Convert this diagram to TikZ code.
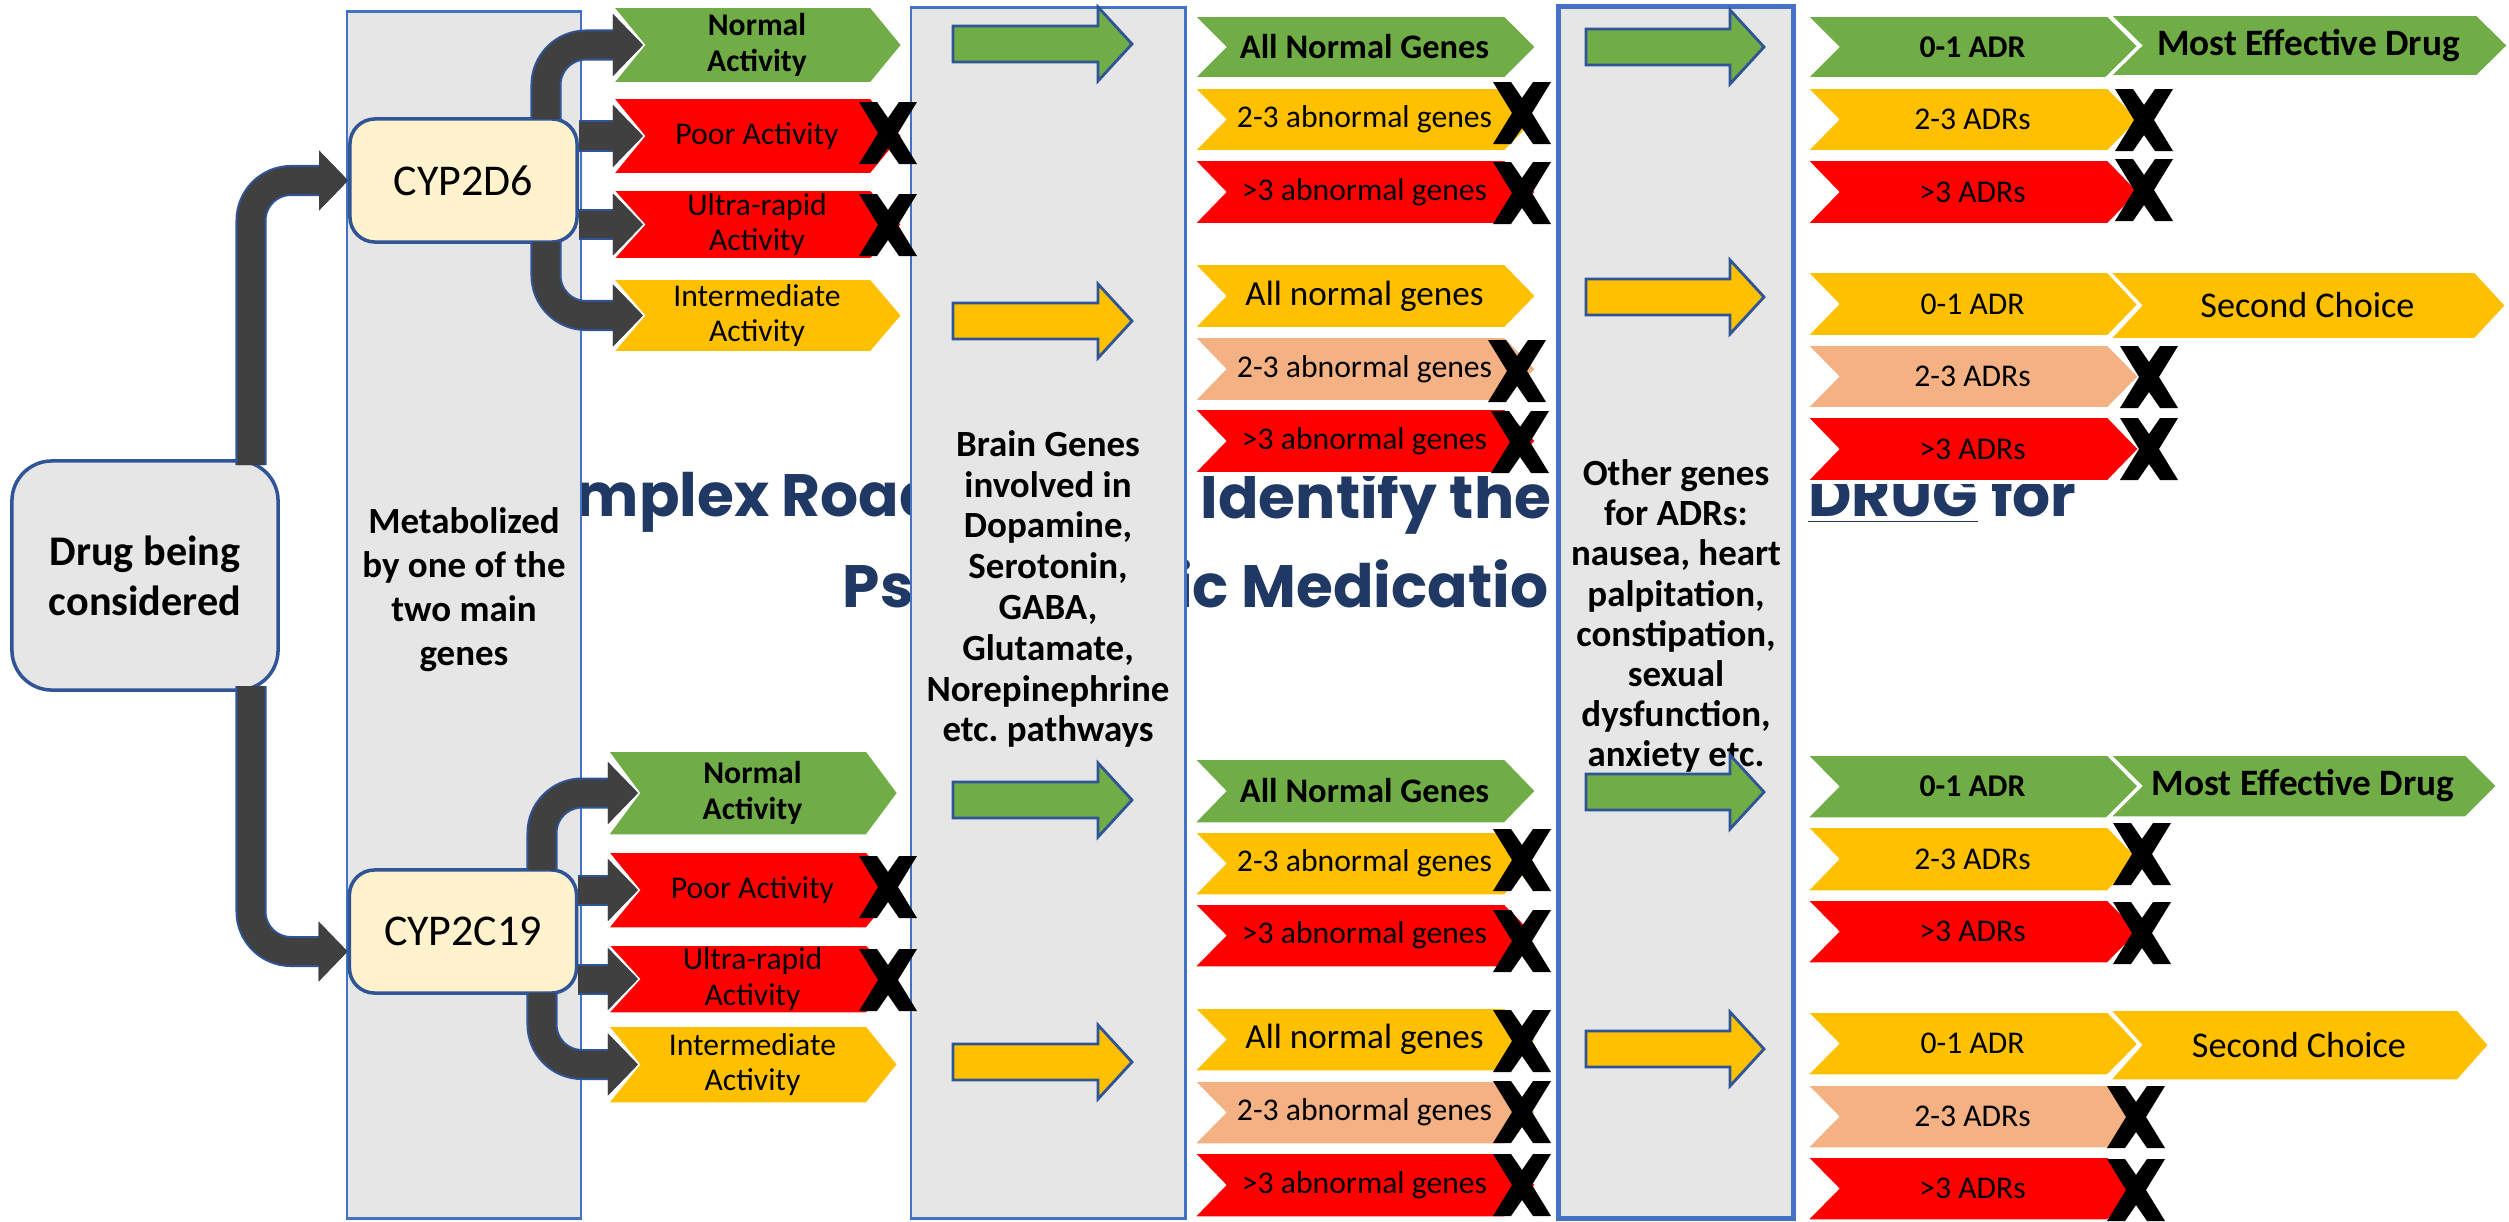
\documentclass[tikz,border=0pt]{standalone}
\usepackage{fontspec}
\setmainfont{Carlito}
\newfontfamily\titlefont{Poppins}
\usetikzlibrary{arrows.meta}

\definecolor{gogreen}{HTML}{70AD47}
\definecolor{warnyellow}{HTML}{FFC000}
\definecolor{badred}{HTML}{FF0000}
\definecolor{peach}{HTML}{F4B183}
\definecolor{colgray}{HTML}{E7E6E6}
\definecolor{colblue}{HTML}{4472C4}
\definecolor{pipegray}{HTML}{404040}
\definecolor{pipeblue}{HTML}{2F5597}
\definecolor{navy}{HTML}{203864}
\definecolor{cream}{HTML}{FFF2CC}

\gdef\chevdepth{32}

\tikzset{
  chevron/.style={draw=white, line width=1pt},
  chevtext/.style={font=\fontsize{9}{10.2}\selectfont, align=center, inner sep=0pt},
  strong/.style={font=\bfseries\fontsize{9}{10.2}\selectfont},
  strongbig/.style={font=\bfseries\fontsize{9.8}{11}\selectfont},
  big/.style={font=\fontsize{10}{11}\selectfont},
  verdict/.style={font=\fontsize{10.3}{12}\selectfont},
  verdictbold/.style={font=\bfseries\fontsize{10.6}{12}\selectfont},
  nogo/.style={fill=black},
  pipe/.style={draw=pipegray, line width=0.27cm, rounded corners=0.4cm, -{Triangle[length=0.3cm,width=0.6cm]}, preaction={draw=pipeblue, line width=0.31cm}},
  blockarrow/.style={draw=pipeblue, line width=0.8pt},
  colbox/.style={draw=colblue, fill=colgray, line width=0.8pt, inner sep=0pt},
  coltext/.style={align=center, inner sep=0pt},
  genebox/.style={draw=pipeblue, fill=cream, rounded corners=0.25cm, line width=1pt, minimum width=2.27cm, minimum height=1.23cm, font=\fontsize{12.5}{14}\selectfont},
  drugbox/.style={draw=pipeblue, fill=colgray, rounded corners=0.4cm, line width=1pt, minimum width=2.66cm, minimum height=2.29cm, align=center, font=\bfseries\fontsize{12}{14.2}\selectfont},
  headline/.style={font=\titlefont\bfseries\fontsize{17}{20}\selectfont, text=navy, inner sep=0pt}
}

% name, left, top, tip, bottom, fill, text options, text
\newcommand{\chev}[8]{%
  \filldraw[chevron, fill=#6] (#2,#3) -- (#4-\chevdepth,#3) -- (#4,{(#3+#5)/2}) -- (#4-\chevdepth,#5) -- (#2,#5) -- (#2+\chevdepth,{(#3+#5)/2}) -- cycle;
  \node[chevtext, #7] (#1) at ({(#2+#4)/2},{(#3+#5)/2}) {#8};
  \coordinate (#1dock) at (#2+\chevdepth,{(#3+#5)/2});}

% left, tip, middle, fill
\newcommand{\fatarrow}[4]{%
  \filldraw[blockarrow, fill=#4] (#1,#3-18) -- (#2-34,#3-18) -- (#2-34,#3-37) -- (#2,#3) -- (#2-34,#3+37) -- (#2-34,#3+18) -- (#1,#3+18) -- cycle;}

% name, x, y
\newcommand{\nogo}[3]{%
  \coordinate (#1) at (#2,#3);
  \fill[nogo, shift={(#2,#3)}] (-29,-31) -- (-11,-31) -- (0,-15) -- (11,-31) -- (29,-31) -- (10,0) -- (29,31) -- (11,31) -- (0,15) -- (-11,31) -- (-29,31) -- (-10,0) -- cycle;}

\begin{document}
\begin{tikzpicture}[x=0.01cm, y=-0.01cm]
\useasboundingbox (0,0) rectangle (2509,1221);

\node[headline, anchor=base west] (title1) at (575,516) {mplex Road};
\node[headline, anchor=base west] (title2) at (1200,518) {Identify the};
\node[headline, anchor=base east] (title3) at (2077,516) {\underline{DRUG} for};
\node[headline, anchor=base west] (title4) at (842,607) {Ps};
\node[headline, anchor=base east] (title5) at (1549,607) {ic Medicatio};

\node[colbox, minimum width=2.34cm, minimum height=12.06cm] (metab) at (464,615) {};
\node[colbox, minimum width=2.74cm, minimum height=12.10cm] (brain) at (1048,613) {};
\node[colbox, line width=1.6pt, minimum width=2.35cm, minimum height=12.11cm] (other) at (1676,612.5) {};

\node[coltext, font=\bfseries\fontsize{10.5}{12.5}\selectfont] (metabtext) at (464,590) {Metabolized\\by one of the\\two main\\genes};
\node[coltext, font=\bfseries\fontsize{10.5}{11.6}\selectfont] (braintext) at (1048,589) {Brain Genes\\involved in\\Dopamine,\\Serotonin,\\GABA,\\Glutamate,\\Norepinephrine\\etc.\ pathways};
\node[coltext, font=\bfseries\fontsize{10.5}{11.4}\selectfont] (othertext) at (1676,616) {Other genes\\for ADRs:\\nausea, heart\\palpitation,\\constipation,\\sexual\\dysfunction,\\anxiety etc.};

\fatarrow{953}{1132}{44}{gogreen}
\fatarrow{953}{1132}{321}{warnyellow}
\fatarrow{953}{1132}{800}{gogreen}
\fatarrow{953}{1132}{1062}{warnyellow}
\fatarrow{1586}{1764}{47}{gogreen}
\fatarrow{1586}{1764}{297}{warnyellow}
\fatarrow{1586}{1764}{792}{gogreen}
\fatarrow{1586}{1764}{1049}{warnyellow}

\chev{act1}{611}{6}{903}{84}{gogreen}{strong}{Normal\\Activity}
\chev{act2}{611}{97}{903}{175}{badred}{}{Poor Activity}
\chev{act3}{611}{189}{903}{260}{badred}{}{Ultra-rapid\\Activity}
\chev{act4}{611}{278}{903}{353}{warnyellow}{}{Intermediate\\Activity}
\chev{act5}{606}{750}{899}{836}{gogreen}{strong}{Normal\\Activity}
\chev{act6}{606}{851}{899}{929}{badred}{}{Poor Activity}
\chev{act7}{606}{944}{899}{1014}{badred}{}{Ultra-rapid\\Activity}
\chev{act8}{606}{1025}{899}{1104}{warnyellow}{}{Intermediate\\Activity}

\chev{gen1}{1192}{15}{1537}{79}{gogreen}{strongbig}{All Normal Genes}
\chev{gen2}{1192}{87}{1537}{152}{warnyellow}{}{2-3 abnormal genes}
\chev{gen3}{1192}{159}{1537}{225}{badred}{}{>3 abnormal genes}
\chev{gen4}{1192}{263}{1537}{329}{warnyellow}{big}{All normal genes}
\chev{gen5}{1192}{336}{1537}{402}{peach}{}{2-3 abnormal genes}
\chev{gen6}{1192}{408}{1537}{474}{badred}{}{>3 abnormal genes}
\chev{gen7}{1192}{758}{1537}{824}{gogreen}{strongbig}{All Normal Genes}
\chev{gen8}{1192}{831}{1537}{896}{warnyellow}{}{2-3 abnormal genes}
\chev{gen9}{1192}{903}{1537}{968}{badred}{}{>3 abnormal genes}
\chev{gen10}{1192}{1007}{1537}{1072}{warnyellow}{big}{All normal genes}
\chev{gen11}{1192}{1080}{1537}{1145}{peach}{}{2-3 abnormal genes}
\chev{gen12}{1192}{1152}{1537}{1218}{badred}{}{>3 abnormal genes}

\chev{adr1}{1805}{15}{2140}{79}{gogreen}{strong}{0-1 ADR}
\chev{adr2}{1805}{87}{2140}{152}{warnyellow}{}{2-3 ADRs}
\chev{adr3}{1805}{159}{2140}{225}{badred}{}{>3 ADRs}
\chev{adr4}{1805}{271}{2140}{337}{warnyellow}{}{0-1 ADR}
\chev{adr5}{1805}{344}{2140}{409}{peach}{}{2-3 ADRs}
\chev{adr6}{1805}{416}{2140}{482}{badred}{}{>3 ADRs}
\chev{adr7}{1805}{754}{2140}{819}{gogreen}{strong}{0-1 ADR}
\chev{adr8}{1805}{826}{2140}{892}{warnyellow}{}{2-3 ADRs}
\chev{adr9}{1805}{899}{2140}{964}{badred}{}{>3 ADRs}
\chev{adr10}{1805}{1011}{2140}{1076}{warnyellow}{}{0-1 ADR}
\chev{adr11}{1805}{1084}{2140}{1149}{peach}{}{2-3 ADRs}
\chev{adr12}{1805}{1156}{2140}{1221}{badred}{}{>3 ADRs}

\chev{best1}{2108}{14}{2509}{77}{gogreen}{verdictbold}{Most Effective Drug}
\chev{second1}{2108}{271}{2507}{340}{warnyellow}{verdict}{Second Choice}
\chev{best2}{2108}{754}{2498}{818}{gogreen}{verdictbold}{Most Effective Drug}
\chev{second2}{2108}{1009}{2490}{1081}{warnyellow}{verdict}{Second Choice}

\nogo{no1}{888}{133}
\nogo{no2}{888}{225}
\nogo{no3}{888}{887}
\nogo{no4}{888}{980}
\nogo{no5}{1522}{113}
\nogo{no6}{1522}{193}
\nogo{no7}{1517}{371}
\nogo{no8}{1520}{442}
\nogo{no9}{1522}{860}
\nogo{no10}{1522}{941}
\nogo{no11}{1522}{1041}
\nogo{no12}{1522}{1112}
\nogo{no13}{1522}{1185}
\nogo{no14}{2144}{120}
\nogo{no15}{2144}{190}
\nogo{no16}{2149}{377}
\nogo{no17}{2149}{449}
\nogo{no18}{2142}{854}
\nogo{no19}{2142}{933}
\nogo{no20}{2136}{1117}
\nogo{no21}{2136}{1190}

\node[drugbox] (drug) at (145,575.5) {Drug being\\considered};
\node[genebox] (cyp1) at (463.5,180.5) {CYP2D6};
\node[genebox] (cyp2) at (463,931.5) {CYP2C19};

\coordinate (drugup) at (251,465);
\coordinate (drugdown) at (251,686);
\coordinate (cyp1up) at (546,119);
\coordinate (cyp1down) at (546,242);
\coordinate (cyp2up) at (542,870);
\coordinate (cyp2down) at (542,993);

\draw[pipe, -{Triangle[length=0.29cm,width=0.58cm]}] (drugup) |- (cyp1.west);
\draw[pipe, -{Triangle[length=0.29cm,width=0.58cm]}] (drugdown) |- ([yshift=-0.2cm]cyp2.west);
\draw[pipe] (cyp1up) |- (act1dock);
\draw[pipe] (cyp1.east |- act2dock) -- (act2dock);
\draw[pipe] (cyp1.east |- act3dock) -- (act3dock);
\draw[pipe] (cyp1down) |- (act4dock);
\draw[pipe] (cyp2up) |- (act5dock);
\draw[pipe] (cyp2.east |- act6dock) -- (act6dock);
\draw[pipe] (cyp2.east |- act7dock) -- (act7dock);
\draw[pipe] (cyp2down) |- (act8dock);
\end{tikzpicture}
\end{document}
